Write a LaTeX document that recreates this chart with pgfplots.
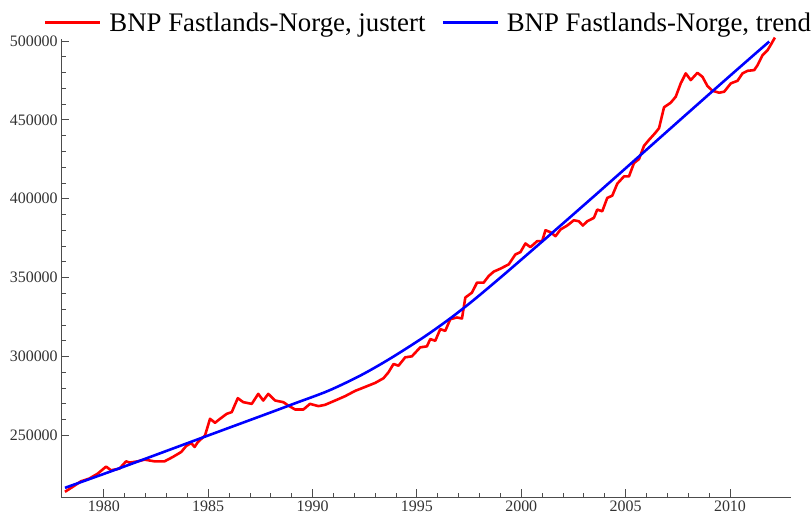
\documentclass[border=0pt]{standalone}
\usepackage{pgfplots}
\pgfplotsset{compat=1.18}
\usepackage{fontspec}
\setmainfont{Liberation Serif}

\pgfplotstableread{
x y
1978.14 214270
1978.51 217420
1978.91 220960
1979.31 222670
1979.71 225820
1980.11 230240
1980.35 227900
1980.75 228980
1981.07 233590
1981.23 232770
1981.63 233590
1981.95 234660
1982.43 233590
1982.91 233590
1983.31 236360
1983.71 239520
1983.95 243310
1984.19 245200
1984.35 242680
1984.51 245830
1984.85 250000
1985.09 260540
1985.33 258020
1985.57 260540
1985.89 263700
1986.13 264770
1986.42 273610
1986.68 271090
1987.09 270010
1987.40 276330
1987.64 272100
1987.88 276330
1988.21 272100
1988.60 271090
1988.84 268940
1989.17 266410
1989.56 266410
1989.88 270010
1990.28 268560
1990.60 269380
1991.08 272100
1991.56 274870
1992.04 278220
1992.52 280740
1993.00 283270
1993.40 286240
1993.64 290020
1993.88 295260
1994.12 294190
1994.44 299490
1994.76 300130
1995.16 305810
1995.48 306440
1995.64 311050
1995.88 309970
1996.12 317360
1996.36 316290
1996.60 323670
1996.92 324750
1997.16 324110
1997.32 337370
1997.64 340530
1997.88 346840
1998.20 346840
1998.44 351010
1998.68 353790
1999.00 355680
1999.40 358390
1999.72 364710
1999.96 366160
2000.20 371650
2000.44 369320
2000.76 373100
2001.00 373100
2001.16 380050
2001.40 378790
2001.64 376260
2001.88 380490
2002.20 383010
2002.52 386360
2002.76 385730
2002.95 383010
2003.16 385730
2003.48 387880
2003.64 393120
2003.88 392040
2004.12 400500
2004.36 401950
2004.60 409530
2004.92 414140
2005.16 414140
2005.40 422600
2005.64 425120
2005.88 433520
2006.12 437310
2006.41 441540
2006.60 444690
2006.84 457950
2007.16 460850
2007.40 464640
2007.64 473100
2007.88 479420
2008.12 475190
2008.44 479790
2008.68 477270
2008.92 471400
2009.16 468430
2009.48 467170
2009.72 467800
2010.04 473100
2010.36 474740
2010.60 479420
2010.84 481060
2011.16 481500
2011.32 484650
2011.56 490970
2011.80 494120
2011.99 498350
2012.15 502140
}\justert

\pgfplotstableread{
x y
1978.14 216790
1981.00 230400
1984.93 249620
1988.00 264600
1989.17 270400
1990.76 278300
1992.30 288000
1993.72 298700
1995.32 312200
1996.60 324200
1997.72 335800
1999.00 350000
2000.36 365500
2001.96 383900
2003.56 402460
2005.16 421180
2006.41 435870
2007.80 452200
2009.40 470920
2011.00 489480
2011.88 499600
}\trend

\begin{document}
\begin{tikzpicture}
\begin{axis}[
  scale only axis,
  width=731.6pt, height=460pt,
  xmin=1977.96, xmax=2012.9,
  ymin=210700, ymax=501300,
  axis lines=left,
  axis line style={-, line width=1pt, black!70},
  tick align=inside,
  xtick={1980,1985,...,2010},
  ytick={250000,300000,...,500000},
  minor x tick num=4, minor y tick num=4,
  major tick length=8pt, minor tick length=4.5pt,
  tick style={line width=0.8pt, black!70},
  scaled ticks=false,
  /pgf/number format/fixed,
  /pgf/number format/precision=0,
  /pgf/number format/set thousands separator={},
  /pgf/number format/assume math mode=true,
  tick label style={font=\fontsize{16}{18}\selectfont, text=black!80},
  clip=false,
  legend columns=2,
  legend image code/.code={\draw[#1] (0pt,0pt) -- (55pt,0pt);},
  legend style={
    at={(axis description cs:-0.0238,1)}, anchor=west, yshift=16.3pt,
    draw=none, fill=none, inner sep=0pt,
    font=\fontsize{26.9}{30}\selectfont,
    nodes={inner sep=0pt},
    /tikz/every odd column/.append style={column sep=8pt},
    /tikz/every even column/.append style={column sep=16pt},
  },
]
\addplot[red, line width=2.6pt, line join=round] table[x=x,y=y] {\justert};
\addlegendentry{BNP Fastlands-Norge, justert}
\addplot[blue, line width=2.6pt, line join=round, smooth, tension=0.5] table[x=x,y=y] {\trend};
\addlegendentry{BNP Fastlands-Norge, trend}
\end{axis}
\path[use as bounding box] (-61.4pt,-18pt) rectangle (749.6pt,499pt);
\end{tikzpicture}
\end{document}
